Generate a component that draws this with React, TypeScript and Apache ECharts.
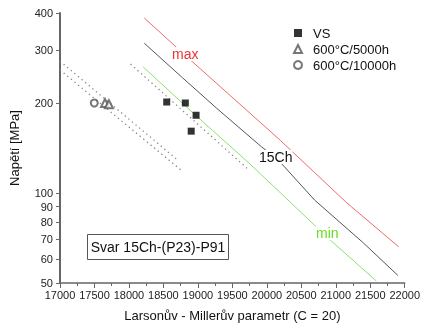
import React, { useEffect, useRef } from "react";
import * as echarts from "echarts";

const xTickMin = 17000;
const xTickMax = 22000;
const xTickStep = 500;
const yTicks = [50, 60, 70, 80, 90, 100, 200, 300, 400];

const maxX = [18222, 18889, 20196, 21162, 21915];
const maxY = [385, 279, 150, 92.6, 66];
const chX = [18222, 18776, 19273, 19926, 20139, 20693, 21403, 21901];
const chY = [317, 243, 192, 142.5, 131, 94.7, 68, 53];
const minX = [18207, 18932, 19741, 20693, 20920, 21588];
const minY = [264, 185, 126, 78, 69.6, 50.8];

const band1X = [17000, 18705];
const band1Y = [276, 129];
const band2X = [17000, 18761];
const band2Y = [258, 119];
const band3X = [18023, 19713];
const band3Y = [270, 121];

const vsX = [18548, 18818, 18974, 18903];
const vsY = [201.5, 200, 182, 161];
const t5000X = [17653, 17710];
const t5000Y = [200, 198];
const t10000X = [17497];
const t10000Y = [200];

const FONT = "Liberation Sans, Arial, sans-serif";

const pairs = (xs: number[], ys: number[]) =>
  xs.map((x, i) => [x, Math.log10(ys[i])]);

export default function App() {
  const ref = useRef<HTMLDivElement>(null);
  useEffect(() => {
    if (!ref.current) return;
    const chart = echarts.init(ref.current, null, { renderer: "svg" });
    const dotted = (name: string, xs: number[], ys: number[]) => ({
      name,
      type: "line",
      data: pairs(xs, ys),
      symbol: "none",
      lineStyle: { color: "#888", width: 1.3, type: [1.3, 3.4] },
      z: 1,
    });
    chart.setOption({
      animation: false,
      textStyle: { fontFamily: FONT },
      grid: { left: 57, right: 14, top: 13, bottom: 45 },
      legend: {
        orient: "vertical",
        left: 288,
        top: 21,
        itemWidth: 8,
        itemHeight: 8,
        itemGap: 2,
        data: ["VS", "600°C/5000h", "600°C/10000h"],
        textStyle: {
          fontSize: 13,
          color: "#111",
          fontFamily: FONT,
          padding: [0, 0, 0, 6],
          lineHeight: 14,
        },
      },
      xAxis: {
        type: "value",
        min: xTickMin,
        max: xTickMax,
        interval: xTickStep,
        name: "Larsonův - Millerův parametr (C = 20)",
        nameLocation: "middle",
        nameGap: 26,
        nameTextStyle: { fontSize: 13, color: "#111", fontFamily: FONT },
        axisLine: { lineStyle: { color: "#666", width: 1.5 } },
        axisTick: { length: 5, lineStyle: { color: "#666" } },
        minorTick: { show: true, splitNumber: 2, length: 3, lineStyle: { color: "#666" } },
        axisLabel: {
          fontSize: 11,
          color: "#222",
          margin: 6,
          fontFamily: FONT,
          formatter: (v: number) => String(v),
        },
        splitLine: { show: false },
      },
      yAxis: {
        type: "value",
        min: Math.log10(yTicks[0]),
        max: Math.log10(yTicks[yTicks.length - 1]),
        name: "Napětí [MPa]",
        nameLocation: "middle",
        nameGap: 39,
        nameTextStyle: { fontSize: 13, color: "#111", fontFamily: FONT },
        axisLine: { show: true, lineStyle: { color: "#666", width: 2 } },
        axisTick: {
          show: true,
          length: 4,
          customValues: yTicks.map((v) => Math.log10(v)),
          lineStyle: { color: "#666" },
        },
        axisLabel: {
          fontSize: 11,
          color: "#222",
          margin: 7,
          fontFamily: FONT,
          customValues: yTicks.map((v) => Math.log10(v)),
          formatter: (v: number) => String(Math.round(Math.pow(10, v))),
        },
        splitLine: { show: false },
      },
      series: [
        dotted("band1", band1X, band1Y),
        dotted("band2", band2X, band2Y),
        dotted("band3", band3X, band3Y),
        {
          name: "max",
          type: "line",
          data: pairs(maxX, maxY),
          symbol: "none",
          lineStyle: { color: "#ef6a6a", width: 1 },
        },
        {
          name: "15Ch",
          type: "line",
          data: pairs(chX, chY),
          symbol: "none",
          lineStyle: { color: "#555", width: 1 },
        },
        {
          name: "min",
          type: "line",
          data: pairs(minX, minY),
          symbol: "none",
          lineStyle: { color: "#8ee06a", width: 1 },
        },
        {
          name: "VS",
          type: "scatter",
          data: pairs(vsX, vsY),
          symbol: "rect",
          symbolSize: 7,
          itemStyle: { color: "#000" },
          z: 5,
        },
        {
          name: "600°C/5000h",
          type: "scatter",
          data: pairs(t5000X, t5000Y),
          symbol: "emptyTriangle",
          symbolSize: 8,
          itemStyle: { color: "#555", borderColor: "#555", borderWidth: 0.8 },
          z: 5,
        },
        {
          name: "600°C/10000h",
          type: "scatter",
          data: pairs(t10000X, t10000Y),
          symbol: "emptyCircle",
          symbolSize: 7,
          itemStyle: { color: "#555", borderColor: "#555", borderWidth: 0.8 },
          z: 5,
        },
      ],
      graphic: [
        {
          type: "text",
          left: 172,
          top: 47,
          z: 100,
          style: {
            text: "max",
            fill: "#ee3333",
            font: `14px ${FONT}`,
            backgroundColor: "#fff",
          },
        },
        {
          type: "text",
          left: 259,
          top: 150,
          z: 100,
          style: {
            text: "15Ch",
            fill: "#111",
            font: `14px ${FONT}`,
            backgroundColor: "#fff",
          },
        },
        {
          type: "text",
          left: 316,
          top: 226,
          z: 100,
          style: {
            text: "min",
            fill: "#66dd22",
            font: `14px ${FONT}`,
            backgroundColor: "#fff",
          },
        },
        {
          type: "group",
          left: 87,
          top: 234,
          z: 100,
          children: [
            {
              type: "rect",
              shape: { x: 0, y: 0, width: 141, height: 25 },
              style: { fill: "#fff", stroke: "#555", lineWidth: 1 },
            },
            {
              type: "text",
              x: 70.5,
              y: 12.5,
              style: {
                text: "Svar 15Ch-(P23)-P91",
                fill: "#111",
                font: `14px ${FONT}`,
                align: "center",
                verticalAlign: "middle",
              },
            },
          ],
        },
      ],
    });
    return () => chart.dispose();
  }, []);
  return (
    <div
      ref={ref}
      style={{ position: "fixed", left: 0, top: 0, width: 423, height: 328 }}
    />
  );
}
